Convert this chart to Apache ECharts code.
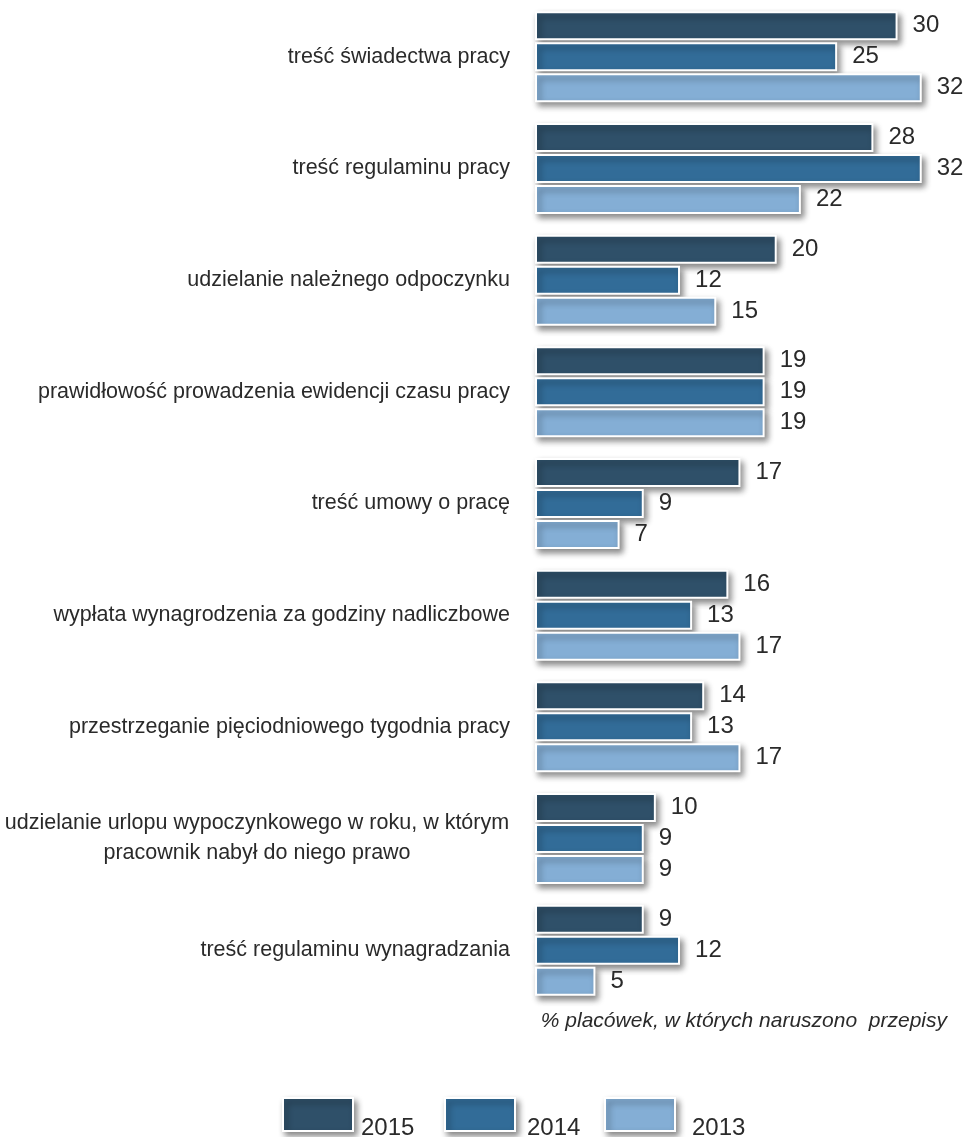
<!DOCTYPE html>
<html>
<head>
<meta charset="utf-8">
<script src="https://cdn.jsdelivr.net/npm/echarts@6/dist/echarts.min.js"></script>
<style>
  html, body { margin: 0; padding: 0; background: #fff; }
  #chart { width: 968px; height: 1137px; }
</style>
</head>
<body>
<div id="chart"></div>
<script>
const categories = [
  'treść świadectwa pracy',
  'treść regulaminu pracy',
  'udzielanie należnego odpoczynku',
  'prawidłowość prowadzenia ewidencji czasu pracy',
  'treść umowy o pracę',
  'wypłata wynagrodzenia za godziny nadliczbowe',
  'przestrzeganie pięciodniowego tygodnia pracy',
  'udzielanie urlopu wypoczynkowego w roku, w którym\npracownik nabył do niego prawo',
  'treść regulaminu wynagradzania'
];
const years = ['2015', '2014', '2013'];
const values2015 = [30, 28, 20, 19, 17, 16, 14, 10, 9];
const values2014 = [25, 32, 12, 19, 9, 13, 13, 9, 12];
const values2013 = [32, 22, 15, 19, 7, 17, 17, 9, 5];
const colors = ['#2f5069', '#326c98', '#84aed5'];
const axisNote = '% placówek, w których naruszono  przepisy';

const chart = echarts.init(document.getElementById('chart'));
const font = 'Liberation Sans';
const textColor = '#2a2a2a';

const barStyle = color => ({
  color: color,
  borderColor: '#ffffff',
  borderWidth: 2,
  shadowColor: 'rgba(0,0,0,0.45)',
  shadowBlur: 6,
  shadowOffsetX: 3,
  shadowOffsetY: 4
});

const makeSeries = (name, data, i) => ({
  name: name,
  type: 'bar',
  data: data,
  barWidth: 29,
  barGap: '7%',
  itemStyle: barStyle(colors[i]),
  label: {
    show: true,
    position: 'right',
    distance: 15,
    fontSize: 24,
    color: textColor,
    fontFamily: font
  }
});

// one legend per year so each sits where it does in the original;
// the year text sits low, level with the bottom of its swatch
const legendLefts = [277, 439, 599];
const legendTextGaps = [3, 7, 12];
const legends = years.map((y, i) => ({
  data: [y],
  left: legendLefts[i],
  top: 1083,
  icon: 'rect',
  itemWidth: 70,
  itemHeight: 33,
  itemStyle: barStyle(colors[i]),
  formatter: name => '{s|}\n{t|' + name + '}',
  textStyle: {
    color: textColor,
    fontFamily: font,
    rich: {
      s: { height: 27, lineHeight: 27, fontSize: 10 },
      t: { fontSize: 24, lineHeight: 26, color: textColor, fontFamily: font,
           padding: [0, 0, 0, legendTextGaps[i]] }
    }
  }
}));

chart.setOption({
  backgroundColor: '#ffffff',
  animation: false,
  grid: { left: 535, top: 1, width: 423, height: 1005 },
  xAxis: {
    type: 'value',
    min: 0,
    max: 35,
    show: false
  },
  yAxis: {
    type: 'category',
    data: categories,
    inverse: true,
    axisLine: { show: false },
    axisTick: { show: false },
    axisLabel: {
      margin: 25,
      fontSize: 21.5,
      color: textColor,
      fontFamily: font,
      lineHeight: 30,
      formatter: v => v.includes('\n')
        ? v.split('\n').map(s => '{c|' + s + '}').join('\n')
        : v,
      rich: {
        c: { width: 506, align: 'center', fontSize: 21.5, lineHeight: 30,
             color: textColor, fontFamily: font }
      }
    }
  },
  legend: legends,
  graphic: [{
    type: 'text',
    right: 21,
    top: 1011,
    style: {
      text: axisNote,
      fontSize: 21,
      fontStyle: 'italic',
      fill: textColor,
      fontFamily: font
    }
  }],
  series: [
    makeSeries(years[0], values2015, 0),
    makeSeries(years[1], values2014, 1),
    makeSeries(years[2], values2013, 2)
  ]
});

window.addEventListener('resize', () => chart.resize());
</script>
</body>
</html>
